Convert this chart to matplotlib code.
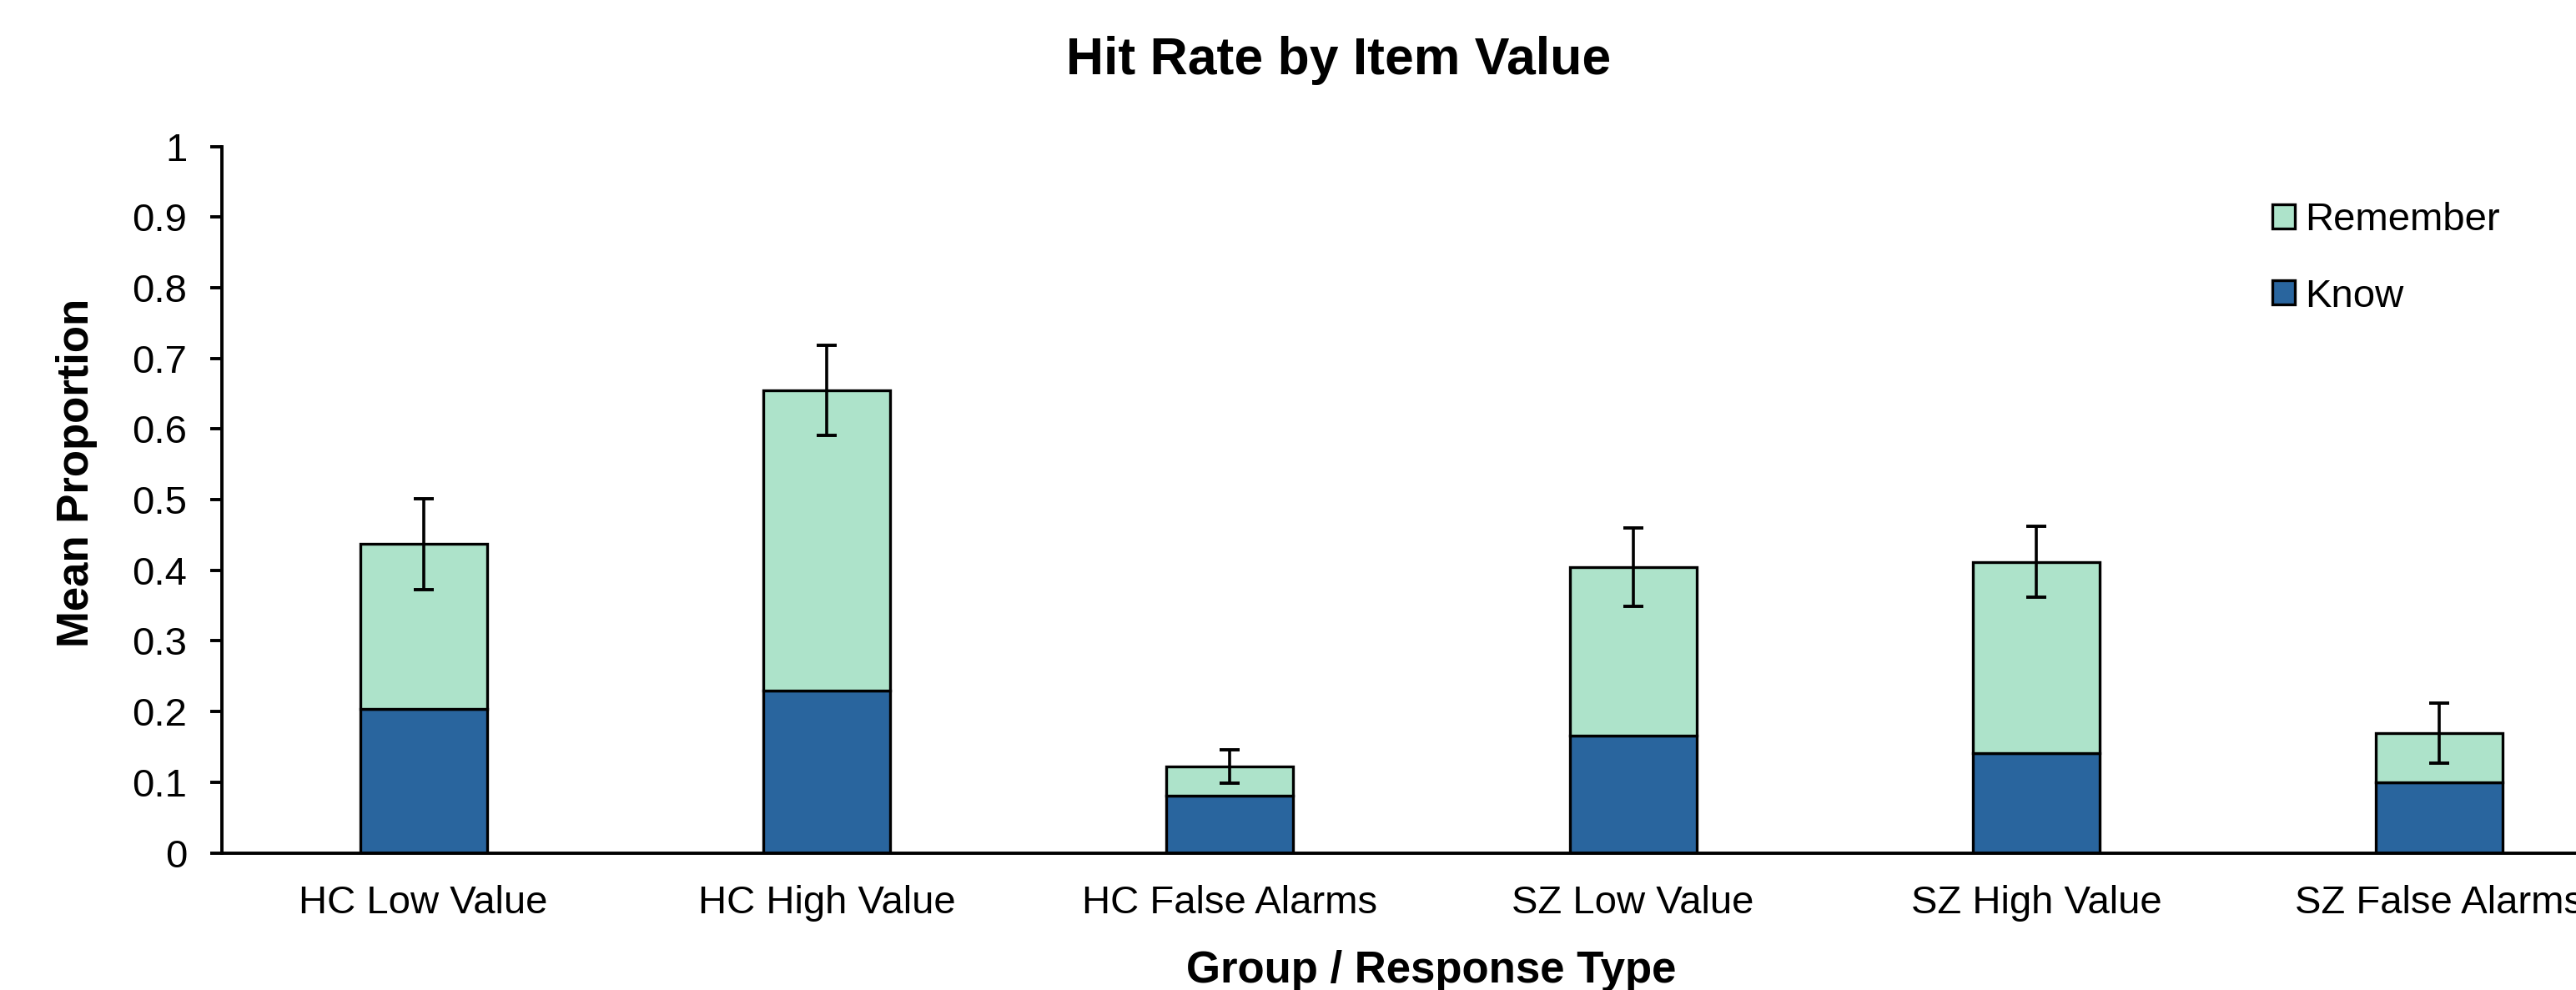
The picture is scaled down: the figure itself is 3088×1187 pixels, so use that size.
import numpy as np
import matplotlib.pyplot as plt

plt.rcParams['font.family'] = ['Liberation Sans', 'DejaVu Sans']

# data
categories = ['HC Low Value', 'HC High Value', 'HC False Alarms',
              'SZ Low Value', 'SZ High Value', 'SZ False Alarms']
know = [0.204, 0.230, 0.081, 0.166, 0.141, 0.100]
remember = [0.233, 0.425, 0.041, 0.239, 0.271, 0.069]
errors = [0.064, 0.064, 0.0235, 0.0555, 0.050, 0.0425]

KNOW_COLOR = '#29659E'
REMEMBER_COLOR = '#ADE3CA'

W, H = 3088, 1187
fig = plt.figure(figsize=(W / 100, H / 100), dpi=100)
# axes runs past the right edge, like the cropped original
ax = fig.add_axes([266 / W, 164.5 / H, 2900 / W, 846.7 / H])

x = np.arange(len(categories))
total = np.array(know) + np.array(remember)

ax.bar(x, know, width=0.315, color=KNOW_COLOR, edgecolor='black', linewidth=2.4, label='Know')
ax.bar(x, remember, width=0.315, bottom=know, color=REMEMBER_COLOR, edgecolor='black',
       linewidth=2.4, label='Remember')
ax.errorbar(x, total, yerr=errors, fmt='none', ecolor='black', elinewidth=2.6,
            capsize=8.5, capthick=2.8)

ax.set_xlim(-0.5, len(categories) - 0.5)
ax.set_ylim(0, 1)
ax.set_yticks(np.arange(0, 1.01, 0.1))
ax.set_yticklabels(['0', '0.1', '0.2', '0.3', '0.4', '0.5', '0.6', '0.7', '0.8', '0.9', '1'])
ax.set_xticks(x)
ax.set_xticklabels(categories)
ax.tick_params(axis='y', labelsize=34, length=10, width=2.8, pad=20)
ax.tick_params(axis='x', labelsize=34, length=0, pad=28)

for side in ['top', 'right']:
    ax.spines[side].set_visible(False)
for side in ['left', 'bottom']:
    ax.spines[side].set_linewidth(2.8)

# labels and title
fig.text(1605 / W, 1 - 72 / H, 'Hit Rate by Item Value', fontsize=45, fontweight='bold',
         ha='center', va='center')
fig.text(1716 / W, 1 - 1164 / H, 'Group / Response Type', fontsize=38, fontweight='bold',
         ha='center', va='center')
fig.text(92 / W, 1 - 567 / H, 'Mean Proportion', fontsize=38, fontweight='bold',
         ha='center', va='center', rotation=90)

handles, labels = ax.get_legend_handles_labels()
ax.legend(handles[::-1], labels[::-1], loc='center left',
          bbox_to_anchor=(2724 / W, 1 - 310 / H), bbox_transform=fig.transFigure,
          frameon=False, fontsize=34, handlelength=0.57, handleheight=0.57,
          handletextpad=0.25, labelspacing=1.0, borderpad=0, borderaxespad=0)

fig.savefig('out.png', dpi=100)
